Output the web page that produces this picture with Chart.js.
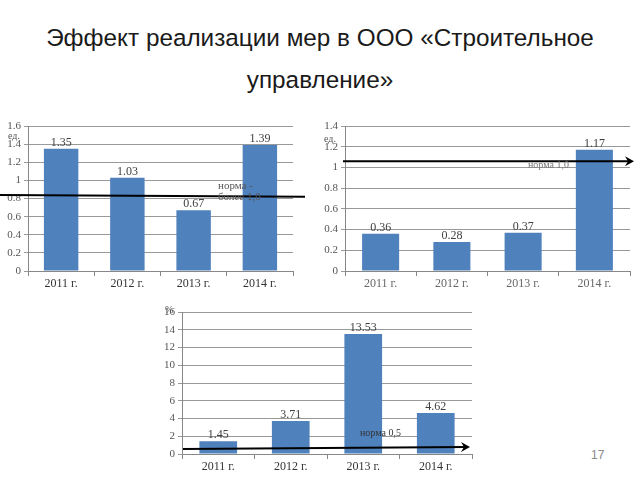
<!DOCTYPE html>
<html>
<head>
<meta charset="utf-8">
<script src="https://cdn.jsdelivr.net/npm/chart.js@4.4.0/dist/chart.umd.min.js"></script>
<style>
  html, body { margin: 0; padding: 0; background: #fff; }
  body { width: 640px; height: 480px; position: relative; overflow: hidden; font-family: 'Liberation Sans', Arial, sans-serif; }
  .title { position: absolute; left: 0; width: 640px; text-align: center; font-size: 24.3px; color: #1a1a1a; }
  .box { position: absolute; }
  .unit { position: absolute; font-family: 'Liberation Serif', serif; font-size: 10px; color: #555; }
  .page { position: absolute; left: 591px; top: 448px; font-size: 12px; color: #888; }
</style>
</head>
<body>
<div class="title" style="top:24px">Эффект реализации мер в ООО «Строительное</div>
<div class="title" style="top:66px">управление»</div>

<div class="box" style="left:0;top:110px;width:310px;height:190px"><canvas id="c1" width="310" height="190"></canvas></div>
<div class="box" style="left:315px;top:110px;width:325px;height:190px"><canvas id="c2" width="325" height="190"></canvas></div>
<div class="box" style="left:150px;top:300px;width:330px;height:180px"><canvas id="c3" width="330" height="180"></canvas></div>

<div class="unit" style="left:8px;top:130px">ед.</div>
<div class="unit" style="left:324px;top:133px">ед.</div>
<div class="unit" style="left:165px;top:304px">%</div>
<div class="page">17</div>

<script>
// данные
const years = ['2011 г.', '2012 г.', '2013 г.', '2014 г.'];
const values1 = [1.35, 1.03, 0.67, 1.39];
const values2 = [0.36, 0.28, 0.37, 1.17];
const values3 = [1.45, 3.71, 13.53, 4.62];
const norm1 = [0.84, 0.82];
const norm2 = [1.06, 1.06];
const norm3 = [0.56, 0.79];

const serif = "'Liberation Serif', 'Times New Roman', serif";
const barColor = '#4f81bd';

// подписи значений и линия нормы
const extras = {
  id: 'extras',
  afterDatasetsDraw(chart, args, opts) {
    const ctx = chart.ctx;
    const meta = chart.getDatasetMeta(0);
    const data = chart.data.datasets[0].data;
    ctx.save();
    ctx.font = '12px ' + serif;
    ctx.fillStyle = '#404040';
    ctx.textAlign = 'center';
    ctx.textBaseline = 'bottom';
    meta.data.forEach((bar, i) => {
      ctx.fillText(data[i].toFixed(2), bar.x, bar.y);
    });

    const area = chart.chartArea;
    const y = chart.scales.y;
    const x0 = area.left + opts.dxStart;
    const x1 = area.right + opts.dxEnd;
    const y0 = y.getPixelForValue(opts.norm[0]);
    const y1 = y.getPixelForValue(opts.norm[1]);
    ctx.strokeStyle = '#000';
    ctx.lineWidth = 2;
    ctx.beginPath();
    ctx.moveTo(x0, y0);
    ctx.lineTo(x1, y1);
    ctx.stroke();
    if (opts.arrow) {
      ctx.fillStyle = '#000';
      ctx.beginPath();
      ctx.moveTo(x1 + 4, y1);
      ctx.lineTo(x1 - 5, y1 - 5);
      ctx.lineTo(x1 - 2, y1);
      ctx.lineTo(x1 - 5, y1 + 5);
      ctx.closePath();
      ctx.fill();
    }
    ctx.font = opts.fontSize + 'px ' + serif;
    ctx.fillStyle = opts.textColor;
    ctx.textAlign = 'left';
    ctx.textBaseline = 'middle';
    opts.text.forEach((t, i) => {
      ctx.fillText(t, area.left + opts.tx, area.top + opts.ty + i * 11);
    });
    ctx.restore();
  }
};

function makeChart(id, values, max, step, yWidth, xHeight, pad, lineOpts, labelColor) {
  return new Chart(document.getElementById(id), {
    type: 'bar',
    data: {
      labels: years,
      datasets: [{ data: values, backgroundColor: barColor, barPercentage: 0.52, categoryPercentage: 1 }]
    },
    options: {
      responsive: false,
      animation: false,
      layout: { padding: pad },
      plugins: { legend: { display: false }, tooltip: { enabled: false }, extras: lineOpts },
      scales: {
        x: {
          grid: { drawOnChartArea: false, offset: true, tickLength: 5, color: '#888' },
          border: { color: '#888' },
          ticks: { font: { family: serif, size: 12 }, color: labelColor, padding: 1 },
          afterFit: s => { s.height = xHeight; }
        },
        y: {
          min: 0, max: max,
          ticks: {
            stepSize: step, font: { family: serif, size: 11 }, color: '#555', padding: 3,
            callback: v => String(+v.toFixed(1))
          },
          grid: { color: '#999', tickLength: 4 },
          border: { color: '#888' },
          afterFit: s => { s.width = yWidth; }
        }
      }
    },
    plugins: [extras]
  });
}

makeChart('c1', values1, 1.6, 0.2, 28, 29, { top: 16, right: 17, left: 0, bottom: 0 },
  { norm: norm1, dxStart: -28, dxEnd: 12, arrow: false, text: ['норма -', 'более 1,0'], tx: 190, ty: 60, textColor: '#555', fontSize: 11 }, '#333');
makeChart('c2', values2, 1.4, 0.2, 30, 29, { top: 16, right: 10, left: 0, bottom: 0 },
  { norm: norm2, dxStart: -2, dxEnd: 0, arrow: true, text: ['норма 1,0'], tx: 183, ty: 39, textColor: '#777', fontSize: 10 }, '#666');
makeChart('c3', values3, 16, 2, 32, 26, { top: 12, right: 8, left: 0, bottom: 0 },
  { norm: norm3, dxStart: 1, dxEnd: -6, arrow: true, text: ['норма 0,5'], tx: 178, ty: 121, textColor: '#333', fontSize: 10 }, '#333');
</script>
</body>
</html>
